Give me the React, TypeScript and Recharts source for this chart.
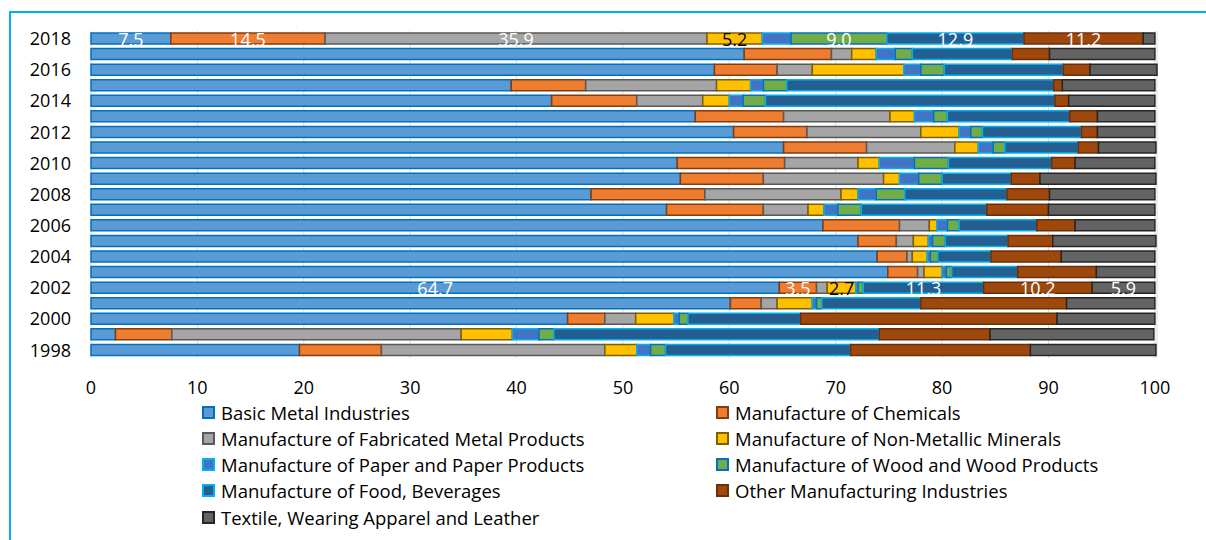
import { BarChart, Bar, XAxis, YAxis, CartesianGrid, LabelList } from "recharts";

// shares (%) per year, top row of the chart first
const years = [
  "2018", "2017", "2016", "2015", "2014", "2013", "2012", "2011", "2010", "2009", "2008",
  "2007", "2006", "2005", "2004", "2003", "2002", "2001", "2000", "1999", "1998",
];
const basicMetal = [7.5, 61.4, 58.6, 39.5, 43.3, 56.8, 60.4, 65.1, 55.1, 55.4, 47.0, 54.1, 68.8, 72.1, 73.9, 74.9, 64.7, 60.1, 44.8, 2.3, 19.6];
const chemicals = [14.5, 8.2, 5.9, 7.0, 8.0, 8.3, 6.9, 7.8, 10.1, 7.8, 10.7, 9.1, 7.2, 3.6, 2.8, 2.8, 3.5, 2.9, 3.5, 5.3, 7.7];
const fabricated = [35.9, 1.9, 3.3, 12.3, 6.2, 10.0, 10.7, 8.3, 6.9, 11.3, 12.8, 4.2, 2.8, 1.6, 0.5, 0.6, 1.0, 1.5, 2.9, 27.2, 21.0];
const nonMetallic = [5.2, 2.3, 8.6, 3.2, 2.5, 2.3, 3.6, 2.2, 2.0, 1.5, 1.6, 1.5, 0.7, 1.4, 1.4, 1.7, 2.7, 3.3, 3.6, 4.8, 3.0];
const paper = [2.7, 1.8, 1.6, 1.2, 1.3, 1.8, 1.1, 1.4, 3.3, 1.8, 1.7, 1.3, 1.0, 0.4, 0.3, 0.4, 0.2, 0.4, 0.5, 2.5, 1.3];
const wood = [9.0, 1.6, 2.2, 2.2, 2.1, 1.3, 1.1, 1.1, 3.2, 2.2, 2.7, 2.2, 1.1, 1.2, 0.7, 0.5, 0.5, 0.5, 0.8, 1.4, 1.4];
const food = [12.9, 9.4, 11.2, 25.1, 27.2, 11.5, 9.3, 6.9, 9.7, 6.5, 9.6, 11.8, 7.3, 5.9, 5.0, 6.2, 11.3, 9.3, 10.6, 30.6, 17.4];
const other = [11.2, 3.5, 2.5, 0.8, 1.3, 2.6, 1.5, 1.9, 2.2, 2.7, 4.0, 5.8, 3.6, 4.2, 6.6, 7.4, 10.2, 13.7, 24.1, 10.4, 16.9];
const textile = [1.1, 9.9, 6.3, 8.7, 8.1, 5.4, 5.4, 5.4, 7.5, 10.9, 9.9, 10.0, 7.5, 9.7, 8.8, 5.5, 5.9, 8.3, 9.2, 15.4, 11.8];

const xTicks = [0, 10, 20, 30, 40, 50, 60, 70, 80, 90, 100];

// which segments carry a data label
const labels2018 = ["basic", "chem", "fab", "nonmetal", "wood", "food", "other"];
const labels2002 = ["basic", "chem", "nonmetal", "food", "other", "textile"];

const FONT = "'Open Sans', sans-serif";

const series = [
  { key: "basic", name: "Basic Metal Industries", fill: "#5B9BD5", stroke: "#0070C0", text: "#fff" },
  { key: "chem", name: "Manufacture of Chemicals", fill: "#ED7D31", stroke: "#843C0C", text: "#fff" },
  { key: "fab", name: "Manufacture of Fabricated Metal Products", fill: "#A5A5A5", stroke: "#595959", text: "#fff" },
  { key: "nonmetal", name: "Manufacture of Non-Metallic Minerals", fill: "#FFC000", stroke: "#7F6000", text: "#000" },
  { key: "paper", name: "Manufacture of Paper and Paper Products", fill: "#4472C4", stroke: "#00B0F0", text: "#fff" },
  { key: "wood", name: "Manufacture of Wood and Wood Products", fill: "#70AD47", stroke: "#0070C0", text: "#fff" },
  { key: "food", name: "Manufacture of Food, Beverages", fill: "#255E91", stroke: "#00B0F0", text: "#fff" },
  { key: "other", name: "Other Manufacturing Industries", fill: "#9E480E", stroke: "#6B2F08", text: "#fff" },
  { key: "textile", name: "Textile, Wearing Apparel and Leather", fill: "#636363", stroke: "#262626", text: "#fff" },
];

const data = years.map((year, i) => ({
  year,
  basic: basicMetal[i],
  chem: chemicals[i],
  fab: fabricated[i],
  nonmetal: nonMetallic[i],
  paper: paper[i],
  wood: wood[i],
  food: food[i],
  other: other[i],
  textile: textile[i],
}));

const makeLabel = (key: string, color: string) => (props: any) => {
  const { x, y, width, height, value, index } = props;
  const year = years[index];
  const show =
    (year === "2018" && labels2018.includes(key)) ||
    (year === "2002" && labels2002.includes(key));
  if (!show) return null;
  return (
    <text
      x={Number(x) + Number(width) / 2}
      y={Number(y) + Number(height) / 2}
      dy="0.4em"
      textAnchor="middle"
      fill={color}
      fontSize={18}
      fontFamily={FONT}
    >
      {Number(value).toFixed(1)}
    </text>
  );
};

function Legend() {
  return (
    <div style={{ position: "absolute", left: 202, top: 399, fontFamily: FONT, fontSize: 18.5, color: "#000" }}>
      {series.map((s, i) => (
        <div
          key={s.key}
          style={{
            position: "absolute",
            left: (i % 2) * 514,
            top: Math.floor(i / 2) * 26.3,
            display: "flex",
            alignItems: "center",
            whiteSpace: "nowrap",
            height: 26,
          }}
        >
          <span
            style={{
              width: 9,
              height: 9,
              background: s.fill,
              border: `2px solid ${s.stroke}`,
              marginRight: 6,
              display: "inline-block",
            }}
          />
          <span>{s.name}</span>
        </div>
      ))}
    </div>
  );
}

export default function App() {
  return (
    <div style={{ position: "absolute", left: 0, top: 0, width: 1206, height: 540, background: "#fff", overflow: "hidden" }}>
      <div
        style={{
          position: "absolute",
          left: 9,
          top: 11,
          width: 1300,
          height: 700,
          borderLeft: "2px solid #00B0F0",
          borderTop: "2px solid #00B0F0",
        }}
      />
      <div style={{ position: "absolute", left: 0, top: 0 }}>
        <BarChart
          width={1206}
          height={400}
          data={data}
          layout="vertical"
          barSize={11}
          margin={{ top: 31, right: 49, bottom: 12, left: 0 }}
        >
          <CartesianGrid horizontal={false} stroke="#D9D9D9" />
          <XAxis
            type="number"
            domain={[0, 100]}
            ticks={xTicks}
            axisLine={false}
            tickLine={false}
            tickSize={0}
            tickMargin={23}
            height={30}
            tick={{ fill: "#000", fontSize: 18, fontFamily: FONT }}
          />
          <YAxis
            type="category"
            dataKey="year"
            interval={1}
            width={91}
            axisLine={false}
            tickLine={false}
            tickSize={0}
            tickMargin={20}
            tick={{ fill: "#000", fontSize: 18, fontFamily: FONT }}
          />
          {series.map((s) => (
            <Bar
              key={s.key}
              dataKey={s.key}
              name={s.name}
              stackId="a"
              fill={s.fill}
              stroke={s.stroke}
              strokeWidth={1.5}
              isAnimationActive={false}
            >
              <LabelList dataKey={s.key} content={makeLabel(s.key, s.text)} />
            </Bar>
          ))}
        </BarChart>
      </div>
      <Legend />
    </div>
  );
}
